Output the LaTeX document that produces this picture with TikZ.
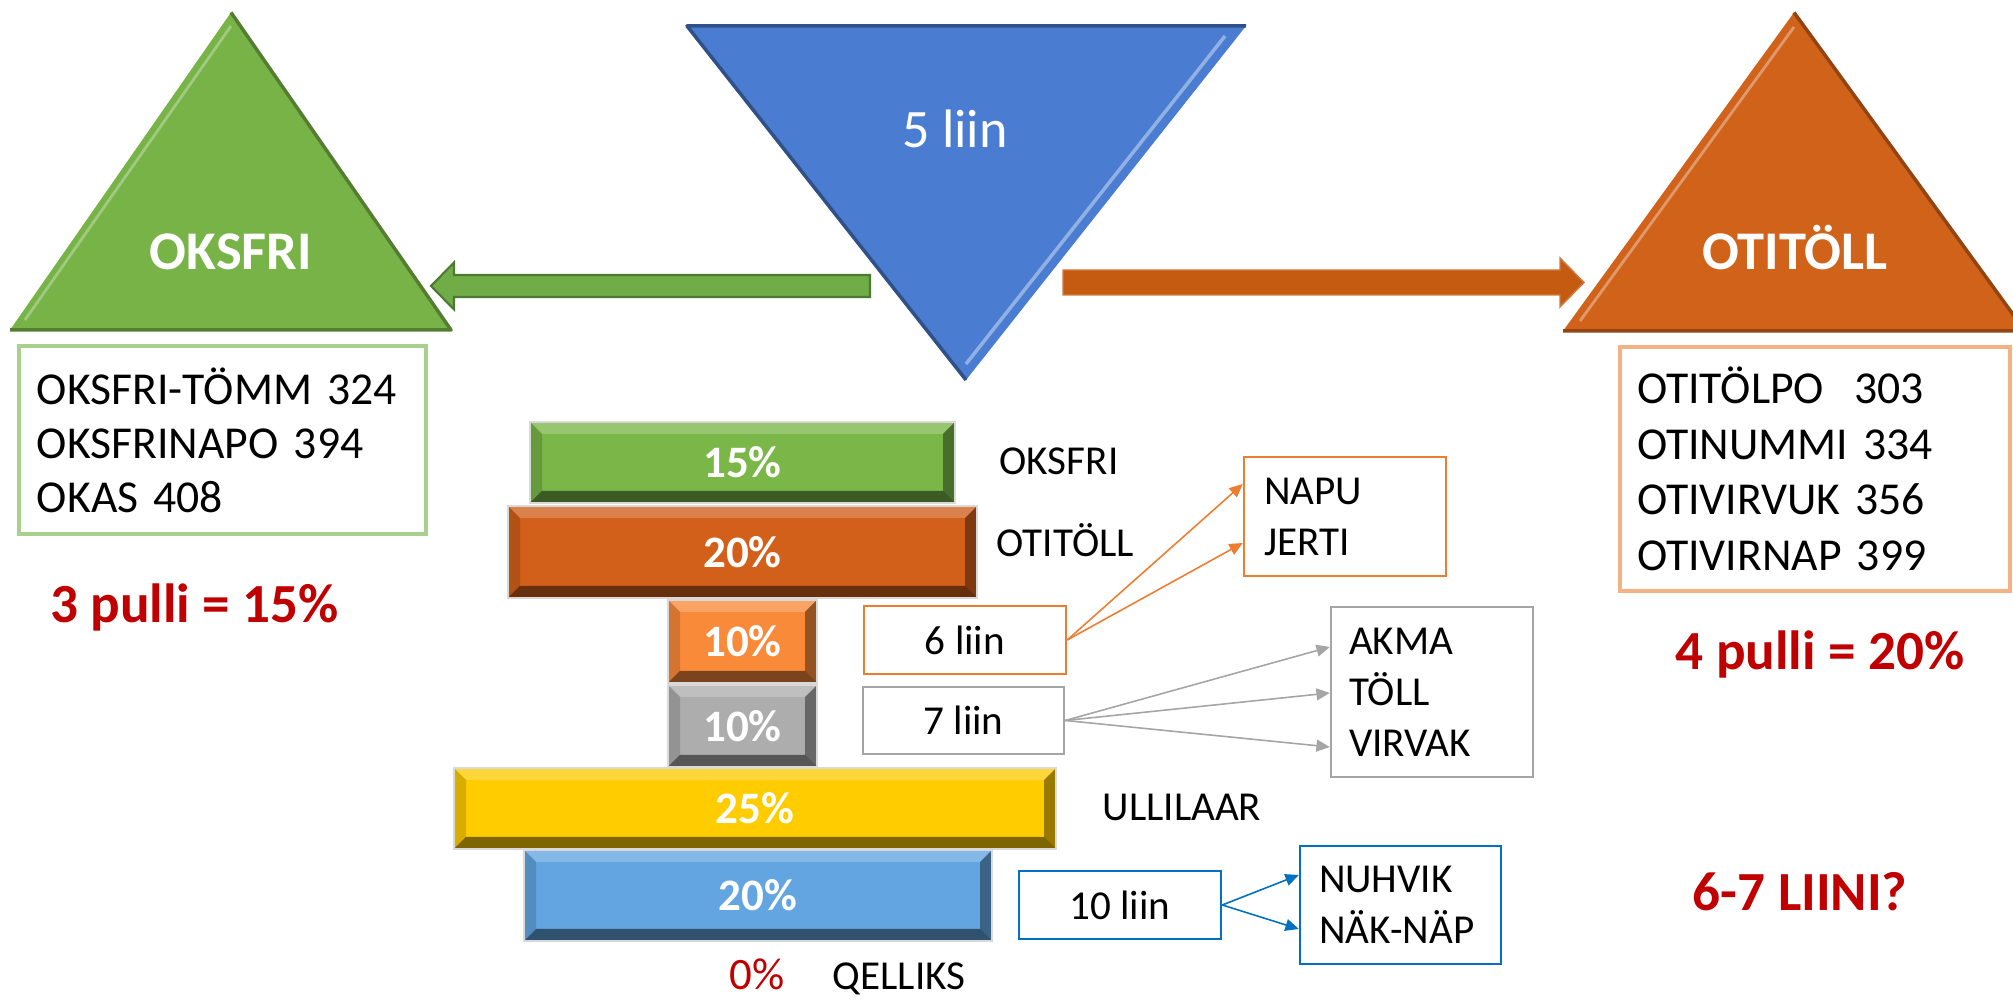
\documentclass[tikz,border=0pt]{standalone}
\usepackage{fontspec}
\setmainfont{Carlito}
\usetikzlibrary{positioning,arrows.meta}

\definecolor{triGreen}{HTML}{78B348}
\definecolor{triBlue}{HTML}{4A7DD1}
\definecolor{triOrange}{HTML}{D0621A}
\definecolor{arrGreen}{HTML}{70AD47}
\definecolor{arrOrange}{HTML}{C55A11}
\definecolor{boxGreen}{HTML}{A9D18E}
\definecolor{boxOrange}{HTML}{F4B183}
\definecolor{lnOrange}{HTML}{ED7D31}
\definecolor{lnGray}{HTML}{A5A5A5}
\definecolor{lnBlue}{HTML}{0070C0}
\definecolor{darkRed}{HTML}{C00000}
\definecolor{barGreen}{HTML}{7AB648}
\definecolor{barOrange}{HTML}{D2601A}
\definecolor{barLight}{HTML}{F98A3A}
\definecolor{barGray}{HTML}{ADADAD}
\definecolor{barYellow}{HTML}{FFCC00}
\definecolor{barBlue}{HTML}{62A5E0}

\begin{document}
\begin{tikzpicture}[
  tritext/.style={text=white,inner sep=0pt,anchor=base,font=\fontsize{15.5}{18}\selectfont\bfseries},
  redlbl/.style={text=darkRed,inner sep=0pt,anchor=base,font=\fontsize{15.7}{18}\selectfont\bfseries},
  sidelbl/.style={inner sep=0pt,anchor=base west,font=\fontsize{11.7}{14}\selectfont},
  bar/.style={rectangle,fill=#1,draw=white!85!black,line width=0.5pt,inner sep=0pt,text=white,
    font=\fontsize{12.8}{15}\selectfont\bfseries,
    path picture={
      \fill[white,opacity=.22] (path picture bounding box.north west) -- (path picture bounding box.north east)
        -- ([shift={(-\bev,-\bev)}]path picture bounding box.north east) -- ([shift={(\bev,-\bev)}]path picture bounding box.north west) -- cycle;
      \fill[black,opacity=.15] (path picture bounding box.north west) -- ([shift={(\bev,-\bev)}]path picture bounding box.north west)
        -- ([shift={(\bev,\bev)}]path picture bounding box.south west) -- (path picture bounding box.south west) -- cycle;
      \fill[black,opacity=.4] (path picture bounding box.north east) -- ([shift={(-\bev,-\bev)}]path picture bounding box.north east)
        -- ([shift={(-\bev,\bev)}]path picture bounding box.south east) -- (path picture bounding box.south east) -- cycle;
      \fill[black,opacity=.5] (path picture bounding box.south west) -- ([shift={(\bev,\bev)}]path picture bounding box.south west)
        -- ([shift={(-\bev,\bev)}]path picture bounding box.south east) -- (path picture bounding box.south east) -- cycle;
    }},
  listbox/.style={rectangle,draw=#1,line width=1.3pt,inner sep=0pt,align=left,font=\fontsize{13}{15.6}\selectfont},
  smallbox/.style={rectangle,draw=#1,line width=0.7pt,inner sep=0pt,align=left,font=\fontsize{11.7}{14.5}\selectfont},
  lnk/.style={draw=#1,line width=0.45pt,-{Triangle[length=3.8pt,width=3.4pt]}}]
\def\bev{0.12}
\clip (0,0) rectangle (20.13,10);
  % triangles
\fill[triGreen] (0.10,6.70) -- (2.31,9.875) -- (4.51,6.70) -- cycle;
\draw[triGreen!70!black,line width=1pt,line join=round] (0.10,6.70) -- (4.51,6.70) -- (2.31,9.875);
\draw[triGreen!70!white,line width=0.8pt] (0.25,6.80) -- (2.31,9.74);
\fill[triBlue] (6.87,9.74) -- (12.46,9.74) -- (9.66,6.20) -- cycle;
\draw[triBlue!65!black,line width=1pt,line join=round] (12.46,9.74) -- (6.87,9.74) -- (9.66,6.20);
\draw[triBlue!60!white,line width=1pt] (12.25,9.64) -- (9.66,6.36);
\fill[triOrange] (15.63,6.69) -- (17.94,9.875) -- (20.25,6.69) -- cycle;
\draw[triOrange!70!black,line width=1pt,line join=round] (15.63,6.69) -- (20.25,6.69) -- (17.94,9.875);
\draw[triOrange!65!white,line width=0.8pt] (15.80,6.79) -- (17.94,9.73);
\node[tritext] (oksfriT) at (2.31,7.30) {OKSFRI};
\node[tritext] (otitollT) at (17.95,7.30) {OTITÖLL};
\node[tritext,font=\fontsize{15.4}{18}\selectfont] (liinT) at (9.55,8.52) {5 liin};
  % block arrows
\filldraw[fill=arrGreen,draw=arrGreen!70!black,line width=0.6pt] (8.70,7.25) -- (4.54,7.25) -- (4.54,7.375)
  -- (4.31,7.14) -- (4.54,6.905) -- (4.54,7.03) -- (8.70,7.03) -- cycle;
\filldraw[fill=arrOrange,draw=arrOrange!80!white,line width=0.4pt] (10.63,7.30) -- (15.60,7.30) -- (15.60,7.42)
  -- (15.84,7.175) -- (15.60,6.93) -- (15.60,7.05) -- (10.63,7.05) -- cycle;
  % lists
\node[listbox=boxGreen,minimum width=4.07cm,minimum height=1.88cm,text width=3.71cm,
  font=\fontsize{13}{15.4}\selectfont] (oksfriList) at (2.225,5.60)
  {OKSFRI-TÖMM 324\\OKSFRINAPO 394\\OKAS 408};
\node[listbox=boxOrange,minimum width=3.90cm,minimum height=2.44cm,text width=3.56cm,
  font=\fontsize{13}{15.8}\selectfont] (otitollList) at (18.15,5.31)
  {OTITÖLPO~~303\\OTINUMMI 334\\OTIVIRVUK 356\\OTIVIRNAP 399};
\node[redlbl] (pulliL) at (1.945,3.77) {3 pulli = 15\%};
\node[redlbl] (pulliR) at (18.20,3.30) {4 pulli = 20\%};
\node[redlbl] (liini) at (18.00,0.89) {6-7 LIINI?};
  % funnel
\node[bar=barGreen,minimum width=4.25cm,minimum height=0.81cm] (b1) at (7.425,5.375) {15\%};
\node[bar=barOrange,minimum width=4.69cm,minimum height=0.92cm] (b2) at (7.425,4.48) {20\%};
\node[bar=barLight,minimum width=1.49cm,minimum height=0.83cm] (b3) at (7.425,3.585) {10\%};
\node[bar=barGray,minimum width=1.49cm,minimum height=0.82cm] (b4) at (7.425,2.74) {10\%};
\node[bar=barYellow,minimum width=6.02cm,minimum height=0.81cm] (b5) at (7.55,1.915) {25\%};
\node[bar=barBlue,minimum width=4.68cm,minimum height=0.91cm] (b6) at (7.58,1.045) {20\%};
\node[sidelbl] (l1) at (9.99,5.25) {OKSFRI};
\node[sidelbl] (l2) at (9.96,4.43) {OTITÖLL};
\node[sidelbl] (l5) at (11.02,1.79) {ULLILAAR};
\node[sidelbl] (l6) at (8.32,0.10) {QELLIKS};
\node[inner sep=0pt,anchor=base,text=darkRed,font=\fontsize{12.8}{15}\selectfont] (zero) at (7.57,0.10) {0\%};
  % liin boxes
\node[smallbox=lnOrange,minimum width=2.02cm,minimum height=0.68cm] (six) at (9.65,3.60) {6 liin};
\node[smallbox=lnGray,minimum width=2.01cm,minimum height=0.67cm] (seven) at (9.635,2.795) {7 liin};
\node[smallbox=lnBlue,minimum width=2.02cm,minimum height=0.68cm] (ten) at (11.20,0.95) {10 liin};
\node[smallbox=lnOrange,minimum width=2.02cm,minimum height=1.19cm,text width=1.62cm] (napu) at (13.45,4.835)
  {NAPU\\JERTI};
\node[smallbox=lnGray,minimum width=2.02cm,minimum height=1.70cm,text width=1.66cm] (akma) at (14.32,3.08)
  {AKMA\\TÖLL\\VIRVAK};
\node[smallbox=lnBlue,minimum width=2.01cm,minimum height=1.18cm,text width=1.63cm] (nuhvik) at (14.005,0.95)
  {NUHVIK\\NÄK-NÄP};
\foreach \s in {0.325,-0.265}
  \draw[lnk=lnOrange] (six.east) -- ([yshift=\s cm]napu.west);
\foreach \s in {0.45,-0.01,-0.55}
  \draw[lnk=lnGray] (seven.east) -- ([yshift=\s cm]akma.west);
\foreach \s in {0.30,-0.24}
  \draw[lnk=lnBlue] (ten.east) -- ([yshift=\s cm]nuhvik.west);
\end{tikzpicture}
\end{document}
